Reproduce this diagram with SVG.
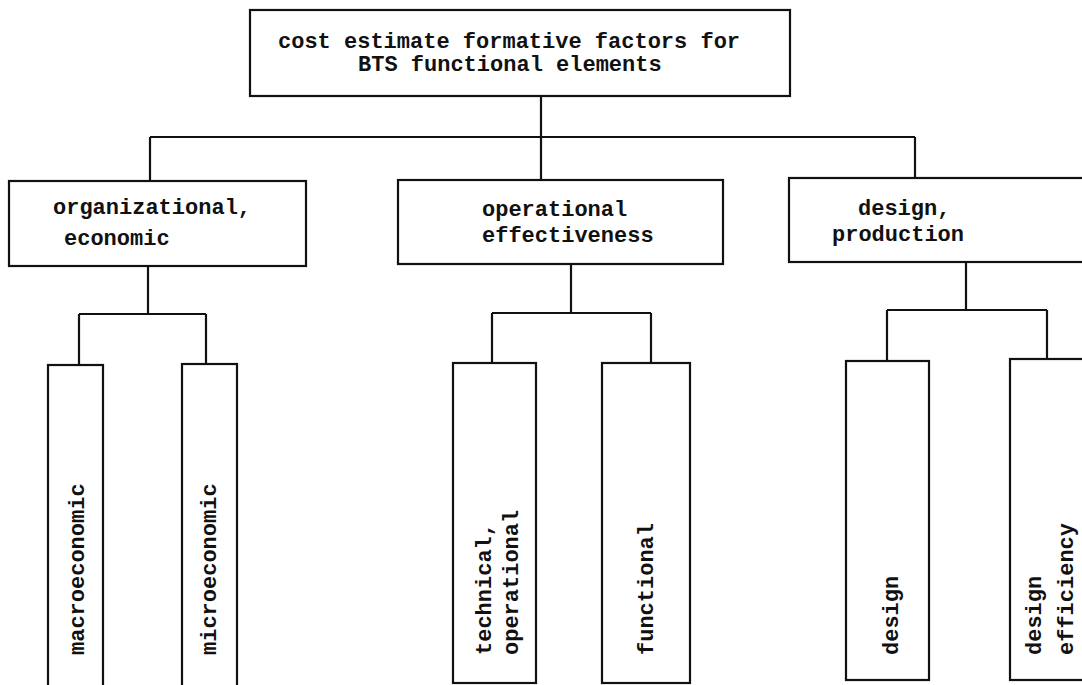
<svg xmlns="http://www.w3.org/2000/svg" width="1082" height="685" viewBox="0 0 1082 685">
  <style>
    .box { fill: #fff; stroke: #111; stroke-width: 2.2; }
    .wire { fill: none; stroke: #111; stroke-width: 2.2; }
    .lbl { font-family: "Liberation Mono", "DejaVu Sans Mono", monospace; font-size: 22px; font-weight: bold; fill: #111; }
  </style>
  <rect width="1082" height="685" fill="#fff"/>

  <!-- tree connectors -->
  <g id="connectors" class="wire">
    <path d="M541 96 V137 M150 137 H915 M150 137 V181 M541 137 V180 M915 137 V178"/>
    <path d="M148 266 V314 M79 314 H206 M79 314 V365 M206 314 V364"/>
    <path d="M571 264 V313 M492 313 H651 M492 313 V363 M651 313 V363"/>
    <path d="M966 262 V310 M887 310 H1047 M887 310 V361 M1047 310 V359"/>
  </g>

  <!-- root -->
  <g id="root">
    <rect class="box" x="250" y="10" width="540" height="86"/>
    <text class="lbl" x="278" y="48">cost estimate formative factors for</text>
    <text class="lbl" x="358" y="71">BTS functional elements</text>
  </g>

  <!-- second level -->
  <g id="org-economic">
    <rect class="box" x="9" y="181" width="297" height="85"/>
    <text class="lbl" x="53" y="214">organizational,</text>
    <text class="lbl" x="64" y="245">economic</text>
  </g>
  <g id="operational-effectiveness">
    <rect class="box" x="398" y="180" width="325" height="84"/>
    <text class="lbl" x="482" y="216">operational</text>
    <text class="lbl" x="482" y="242">effectiveness</text>
  </g>
  <g id="design-production">
    <rect class="box" x="789" y="178" width="310" height="84"/>
    <text class="lbl" x="858" y="215">design,</text>
    <text class="lbl" x="832" y="241">production</text>
  </g>

  <!-- third level (vertical labels) -->
  <g id="macroeconomic">
    <rect class="box" x="48" y="365" width="55" height="340"/>
    <text class="lbl" transform="translate(84,655) rotate(-90)">macroeconomic</text>
  </g>
  <g id="microeconomic">
    <rect class="box" x="182" y="364" width="55" height="340"/>
    <text class="lbl" transform="translate(216,655) rotate(-90)">microeconomic</text>
  </g>
  <g id="technical-operational">
    <rect class="box" x="453" y="363" width="83" height="320"/>
    <text class="lbl" transform="translate(491,655) rotate(-90)">technical,</text>
    <text class="lbl" transform="translate(518,655) rotate(-90)">operational</text>
  </g>
  <g id="functional">
    <rect class="box" x="602" y="363" width="88" height="320"/>
    <text class="lbl" transform="translate(653,655) rotate(-90)">functional</text>
  </g>
  <g id="design">
    <rect class="box" x="846" y="361" width="83" height="319"/>
    <text class="lbl" transform="translate(898,655) rotate(-90)">design</text>
  </g>
  <g id="design-efficiency">
    <rect class="box" x="1010" y="359" width="100" height="321"/>
    <text class="lbl" transform="translate(1041,655) rotate(-90)">design</text>
    <text class="lbl" transform="translate(1073,655) rotate(-90)">efficiency</text>
  </g>
</svg>
